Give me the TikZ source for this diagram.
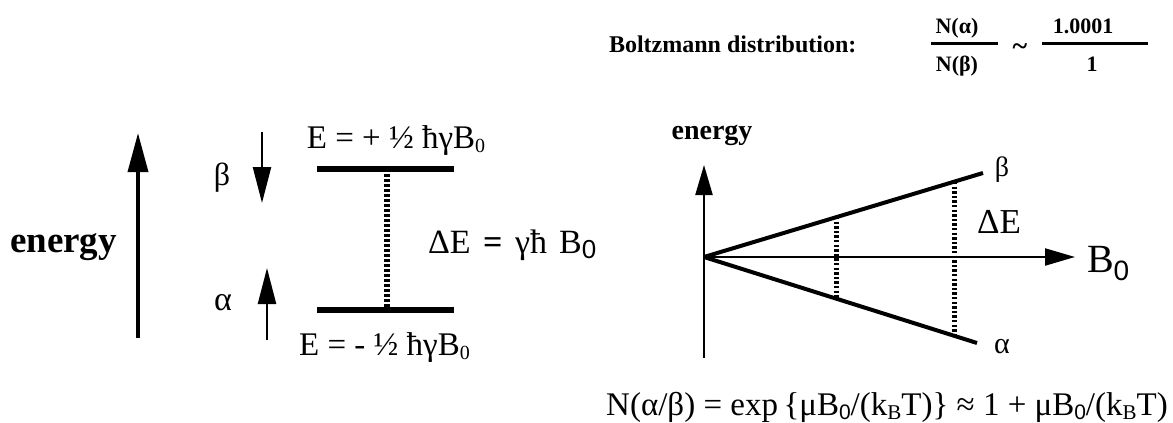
\documentclass[tikz,border=0pt]{standalone}
\usepackage{fontspec}
\setmainfont{Liberation Serif}
\newfontfamily\sansf{Liberation Sans}
\usetikzlibrary{arrows.meta,calc}
\newcommand\fsz[1]{\fontsize{#1}{#1}\selectfont}
\newcommand\lowz[3]{\raisebox{-#1pt}{\fsz{#2}#3}}
\begin{document}
\begin{tikzpicture}[x=1pt,y=-1pt,
  lbl/.style={inner sep=0pt, outer sep=0pt},
  fracbar/.style={line width=3pt},
  level/.style={line width=6pt},
  dotline/.style={line width=6pt, dash pattern=on 2.5pt off 2.5pt},
  bigarrow/.style={line width=3.5pt, -{Triangle[length=39pt,width=20pt]}},
  spinarrow/.style={line width=2.3pt, -{Triangle[length=36pt,width=18pt]}},
  axisarrow/.style={line width=2.2pt, -{Triangle[length=30pt,width=17pt]}},
  split/.style={line width=4pt},
  rdots/.style={line width=5pt, dash pattern=on 2.3pt off 2.3pt}]
\useasboundingbox (0,0) rectangle (1173,423);

% ---- Boltzmann distribution
\node[lbl, anchor=base west, font=\bfseries\fsz{24}] (boltz) at (609,52) {Boltzmann distribution:};
\node[lbl, anchor=base, font=\bfseries\fsz{22}] (na) at (957,33) {N(α)};
\node[lbl, anchor=base, font=\bfseries\fsz{22}] (nb) at (957,71) {N(β)};
\coordinate (b1l) at (931,43); \coordinate (b1r) at (998,43);
\draw[fracbar] (b1l) -- (b1r);
\node[lbl, anchor=base, font=\bfseries\fsz{28}] (tld) at (1020,55) {\textasciitilde};
\node[lbl, anchor=base, font=\bfseries\fsz{22}] (num) at (1083,33) {1.0001};
\node[lbl, anchor=base, font=\bfseries\fsz{22}] (den) at (1092,71) {1};
\coordinate (b2l) at (1042,43); \coordinate (b2r) at (1148,43);
\draw[fracbar] (b2l) -- (b2r);

% ---- left diagram
\node[lbl, anchor=base, font=\bfseries\fsz{37}] (en1) at (63.5,252) {energy};
\coordinate (ea0) at (138,338); \coordinate (ea1) at (138,133);
\draw[bigarrow] (ea0) -- (ea1);
\node[lbl, font=\fsz{32}] (beta1) at (222,178) {β};
\node[lbl, font=\fsz{34}] (alpha1) at (223,303) {α};
\coordinate (da0) at (262,132); \coordinate (da1) at (262,203);
\draw[spinarrow] (da0) -- (da1);
\coordinate (ua0) at (267,340); \coordinate (ua1) at (267,268);
\draw[spinarrow] (ua0) -- (ua1);
\coordinate (t0) at (317,169); \coordinate (t1) at (454,169);
\coordinate (l0) at (317,310); \coordinate (l1) at (454,310);
\draw[level] (t0) -- (t1);
\draw[level] (l0) -- (l1);
\coordinate (dt) at (387,169); \coordinate (db) at (387,310);
\draw[dotline] (dt) -- (db);
\node[lbl, anchor=base, font=\fsz{33}] (eplus) at (396,148) {E = + ½ ħγB\lowz{4}{20}{0}};
\node[lbl, anchor=base, font=\fsz{33}] (eminus) at (384.5,355) {E = - ½ ħγB\lowz{4}{20}{0}};
\node[lbl, anchor=base west, font=\fsz{34}] (de1) at (428,253) {ΔE\hspace{0.12em} {\bfseries =}\hspace{0.12em} γħ\hspace{0.1em} B\lowz{5}{26}{\sansf 0}};

% ---- right diagram
\node[lbl, anchor=base, font=\bfseries\fsz{28}] (en2) at (712,139) {energy};
\coordinate (O) at (704,257);
\coordinate (V0) at (704,358); \coordinate (V1) at (704,165);
\coordinate (H1) at (1075,257);
\draw[axisarrow] (V0) -- (V1);
\draw[axisarrow] (O) -- (H1);
\coordinate (U) at (983,173); \coordinate (L) at (977,343);
\draw[split] (O) -- (U);
\draw[split] (O) -- (L);
\coordinate (d1a) at (836.7,217); \coordinate (d1b) at (836.7,298);
\coordinate (d2a) at (954,182); \coordinate (d2b) at (954,334);
\draw[rdots] (d1a) -- (d1b);
\draw[rdots] (d2a) -- (d2b);
\node[lbl, font=\fsz{28}] (beta2) at (1002,170) {β};
\node[lbl, font=\fsz{30}] (alpha2) at (1002,347) {α};
\node[lbl, anchor=base, font=\fsz{35}] (de2) at (999,233) {ΔE};
\node[lbl, anchor=base west, font=\fsz{40}] (b0) at (1087,272) {B\lowz{8}{28}{\sansf 0}};

% ---- population formula
\node[lbl, anchor=base, font=\fsz{33}] (pop) at (887,415) {N(α/β) = exp\,\{μB\lowz{4}{21}{\sansf 0}/(k\lowz{4}{21}{B}T)\} ≈ 1 + μB\lowz{4}{21}{\sansf 0}/(k\lowz{4}{21}{B}T)};
\end{tikzpicture}
\end{document}
